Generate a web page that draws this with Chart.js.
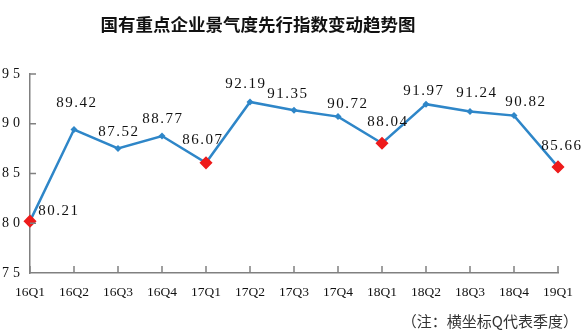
<!DOCTYPE html>
<html>
<head>
<meta charset="utf-8">
<script src="https://cdn.jsdelivr.net/npm/chart.js@4/dist/chart.umd.min.js"></script>
<style>
  html, body { margin: 0; padding: 0; background: #fff; }
  #wrap { position: relative; width: 584px; height: 332px; overflow: hidden; }
  #chart { position: absolute; left: 0; top: 0; }
  #title {
    position: absolute; left: 0; top: 11px; width: 516px;
    text-align: center; line-height: 24px;
    font: bold 17.5px "Noto Sans CJK SC", sans-serif; color: #111;
  }
  #note {
    position: absolute; right: 6px; top: 310px; line-height: 20px;
    font: 15px "Noto Sans CJK SC", sans-serif; color: #333;
  }
</style>
</head>
<body>
<div id="wrap">
  <canvas id="chart" width="584" height="332"></canvas>
  <div id="title">国有重点企业景气度先行指数变动趋势图</div>
  <div id="note">（注：横坐标Q代表季度）</div>
</div>
<script>
// Quarters on the x axis
const quarters = ['16Q1', '16Q2', '16Q3', '16Q4', '17Q1', '17Q2', '17Q3',
                  '17Q4', '18Q1', '18Q2', '18Q3', '18Q4', '19Q1'];
// Leading index of business climate for key state-owned enterprises
const indexValues = [80.21, 89.42, 87.52, 88.77, 86.07, 92.19, 91.35,
                     90.72, 88.04, 91.97, 91.24, 90.82, 85.66];
// Value axis ticks
const yTicks = [75, 80, 85, 90, 95];

const LINE_BLUE = '#2e86c8';
const MARK_RED = '#ee1b1b';
const AXIS_GREY = '#808080';

// Nudge of each value label relative to its point (px)
const labelNudge = [[28, -10], [2, -26], [0, -16], [0, -17], [-4, -23], [-5, -18], [-7, -16],
                    [9, -13], [5, -21], [-3, -13], [6, -18], [11, -14], [3, -21]];

const isFirstQuarter = (i) => quarters[i].endsWith('Q1');

// Per-axis letter spacing for tick labels
const tickSpacing = { x: '0px', y: '4px' };
const spacedTicks = {
  id: 'spacedTicks',
  afterLayout(chart) {
    Object.keys(tickSpacing).forEach((id) => {
      const scale = chart.scales[id];
      if (!scale || scale._spacedWrap) return;
      const base = Object.getPrototypeOf(scale).drawLabels;
      scale.drawLabels = function (area) {
        const ctx = this.ctx;
        ctx.save();
        ctx.letterSpacing = tickSpacing[id];
        base.call(this, area);
        ctx.restore();
      };
      scale._spacedWrap = true;
    });
  }
};

// Short tick marks pointing into the plot area
const innerTicks = {
  id: 'innerTicks',
  afterDraw(chart) {
    const { ctx, chartArea, scales: { x, y } } = chart;
    ctx.save();
    ctx.strokeStyle = AXIS_GREY;
    ctx.lineWidth = 1.5;
    ctx.beginPath();
    quarters.forEach((q, i) => {
      const px = x.getPixelForTick(i);
      ctx.moveTo(px, chartArea.bottom);
      ctx.lineTo(px, chartArea.bottom - 7);
    });
    yTicks.forEach((v) => {
      if (v === y.min) return;
      const py = y.getPixelForValue(v);
      ctx.moveTo(chartArea.left, py);
      ctx.lineTo(chartArea.left + 6, py);
    });
    ctx.stroke();
    ctx.restore();
  }
};

// Value labels next to each point
const valueLabels = {
  id: 'valueLabels',
  afterDatasetsDraw(chart) {
    const { ctx } = chart;
    const meta = chart.getDatasetMeta(0);
    ctx.save();
    ctx.font = '15px "Liberation Serif", serif';
    ctx.letterSpacing = '1.5px';
    ctx.fillStyle = '#111';
    ctx.textAlign = 'center';
    ctx.textBaseline = 'middle';
    meta.data.forEach((pt, i) => {
      const [dx, dy] = labelNudge[i];
      ctx.fillText(indexValues[i].toFixed(2), pt.x + dx + 0.75, pt.y + dy);
    });
    ctx.restore();
  }
};

new Chart(document.getElementById('chart'), {
  type: 'line',
  data: {
    labels: quarters,
    datasets: [{
      data: indexValues,
      borderColor: LINE_BLUE,
      borderWidth: 2.5,
      tension: 0,
      clip: false,
      pointStyle: 'rectRot',
      pointRadius: (c) => isFirstQuarter(c.dataIndex) ? 5.5 : 3.5,
      pointHoverRadius: (c) => isFirstQuarter(c.dataIndex) ? 5.5 : 3.5,
      pointBackgroundColor: (c) => isFirstQuarter(c.dataIndex) ? MARK_RED : LINE_BLUE,
      pointBorderColor: (c) => isFirstQuarter(c.dataIndex) ? MARK_RED : LINE_BLUE,
      pointBorderWidth: (c) => isFirstQuarter(c.dataIndex) ? 1.5 : 0
    }]
  },
  options: {
    responsive: false,
    animation: false,
    events: [],
    layout: { autoPadding: false, padding: { left: 0, top: 74, right: 24, bottom: 0 } },
    plugins: { legend: { display: false }, title: { display: false }, tooltip: { enabled: false } },
    scales: {
      x: {
        type: 'category',
        offset: false,
        grid: { display: false, drawTicks: false },
        border: { display: true, color: AXIS_GREY, width: 1.5 },
        ticks: {
          autoSkip: false, maxRotation: 0, padding: 11, color: '#111',
          font: { family: '"Liberation Serif", serif', size: 13.5 }
        },
        afterFit(s) { s.height = 59; }
      },
      y: {
        min: yTicks[0],
        max: yTicks[yTicks.length - 1],
        grid: { display: false, drawTicks: false },
        border: { display: true, color: AXIS_GREY, width: 1.5 },
        afterBuildTicks(s) { s.ticks = yTicks.map((v) => ({ value: v })); },
        ticks: {
          padding: 6, color: '#111',
          font: { family: '"Liberation Serif", serif', size: 14 }
        },
        afterFit(s) { s.width = 30; }
      }
    }
  },
  plugins: [spacedTicks, innerTicks, valueLabels]
});
</script>
</body>
</html>
